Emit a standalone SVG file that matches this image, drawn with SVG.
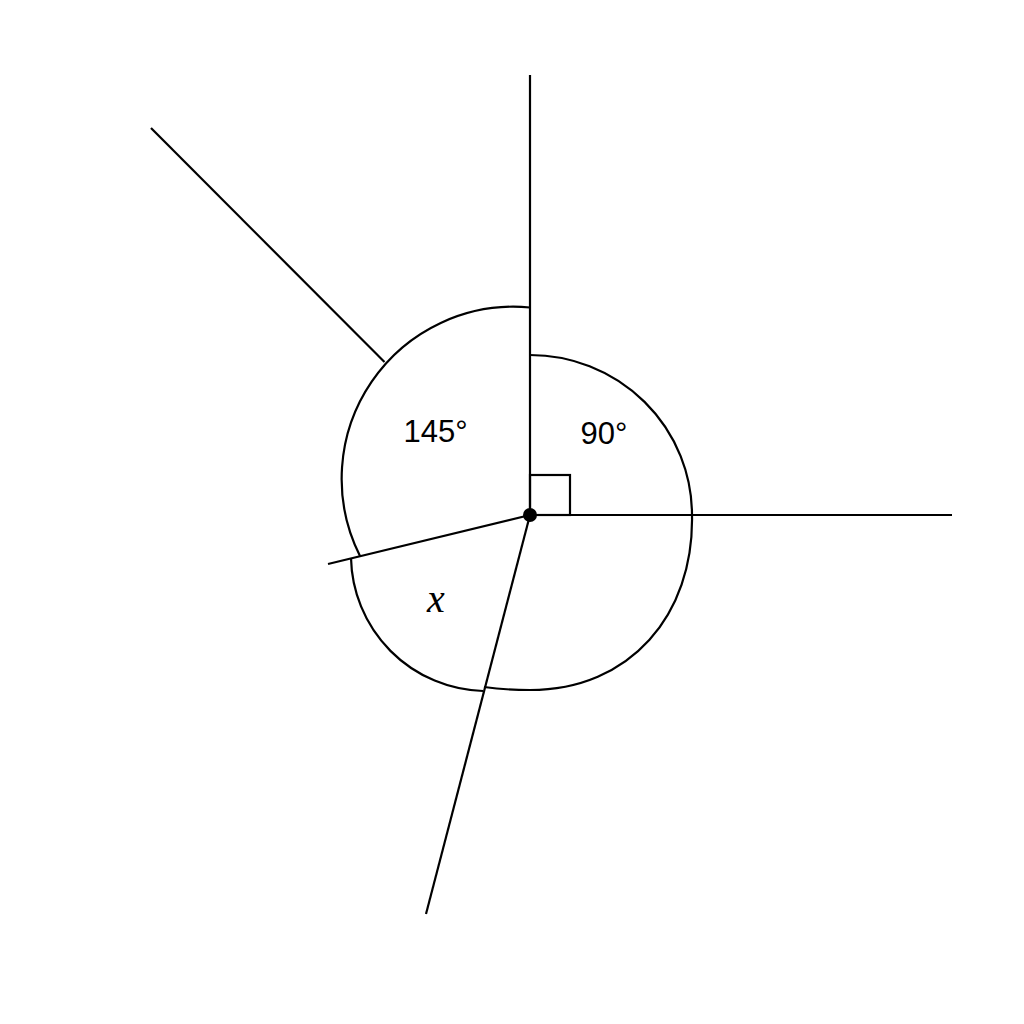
<svg xmlns="http://www.w3.org/2000/svg" width="1024" height="1024" viewBox="0 0 1024 1024">
<style>
.ln{stroke:#000;stroke-width:2.2;fill:none;stroke-linecap:butt}
.lbl{font-family:"Liberation Sans",Arial,sans-serif;font-size:31px;fill:#000;text-anchor:middle}
.var{font-family:"Liberation Serif","Times New Roman",serif;font-style:italic;font-size:40px;fill:#000;text-anchor:middle}
</style>
<rect width="1024" height="1024" fill="#fff"/>
<g id="connectors">
<line class="ln" x1="530" y1="75" x2="530" y2="515"/>
<line class="ln" x1="530" y1="515" x2="952" y2="515"/>
<line class="ln" x1="384.5" y1="362" x2="151" y2="128"/>
<line class="ln" x1="530" y1="515" x2="328" y2="564"/>
<line class="ln" x1="530" y1="515" x2="426" y2="914"/>
</g>
<g id="arc-145">
<path class="ln" d="M530 307.5 A172 172 0 0 0 360 556"/>
<text class="lbl" x="435.5" y="442">145°</text>
</g>
<g id="arc-90">
<path class="ln" d="M530 355 A162 160 0 0 1 692 515"/>
<rect class="ln" x="530" y="475" width="40" height="40"/>
<text class="lbl" x="604" y="444">90°</text>
</g>
<g id="arc-lower">
<path class="ln" d="M692 515 C694 615 630 690 530 690 Q505 690 484 687"/>
</g>
<g id="arc-x">
<path class="ln" d="M351 558 A136 136 0 0 0 483 691"/>
<text class="var" x="436" y="612">x</text>
</g>
<g id="vertex">
<circle cx="530" cy="515" r="7" fill="#000"/>
</g>
</svg>
